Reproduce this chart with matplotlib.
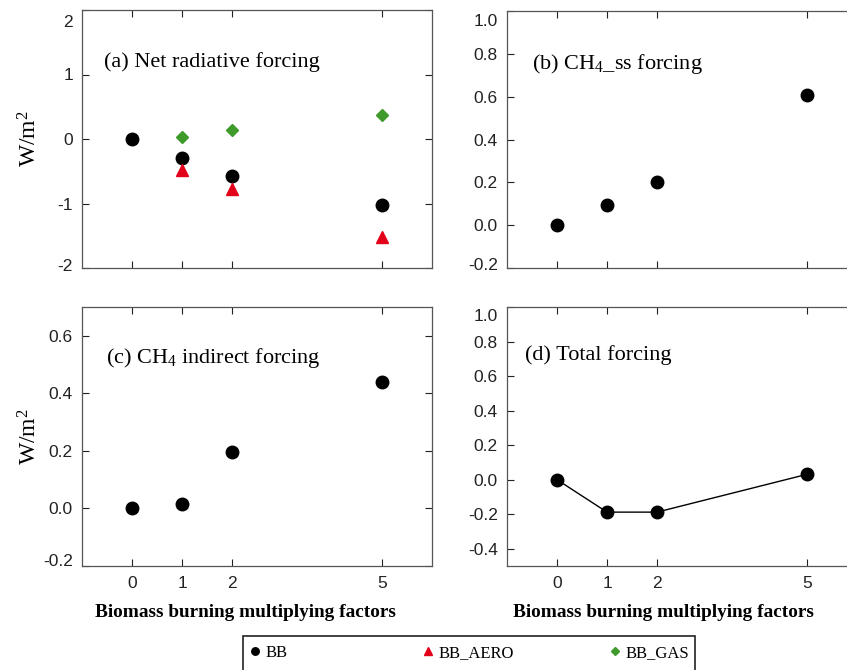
import matplotlib
matplotlib.use("Agg")
import matplotlib.pyplot as plt
from matplotlib.patches import Rectangle
from matplotlib.transforms import ScaledTranslation

plt.rcParams['mathtext.default'] = 'regular'

factors = [0, 1, 2, 5]
factors_nz = [1, 2, 5]

# (a) net radiative forcing
net_bb = [0.0, -0.30, -0.58, -1.02]
net_aero = [-0.48, -0.77, -1.52]
net_gas = [0.03, 0.14, 0.37]
# (b) CH4_ss forcing
ch4_ss = [0.0, 0.093, 0.20, 0.608]
# (c) CH4 indirect forcing
ch4_ind = [0.0, 0.014, 0.196, 0.438]
# (d) total forcing
total = [0.0, -0.188, -0.188, 0.031]

panel_titles = ["(a) Net radiative forcing", "(b) CH$_4$_ss forcing",
                "(c) CH$_4$ indirect forcing", "(d) Total forcing"]
legend_labels = ["BB", "BB_AERO", "BB_GAS"]

SERIF = "Liberation Serif"
SANS = "Liberation Sans"
RED = "#e3001a"
GREEN = "#3f9a2c"
SPINE = "#555555"

W, H = 847, 670
fig = plt.figure(figsize=(W / 100, H / 100), dpi=100)

def px_box(left, top, right, bottom):
    return [left / W, 1 - bottom / H, (right - left) / W, (bottom - top) / H]

ax_a = fig.add_axes(px_box(82, 10, 432, 268))
ax_b = fig.add_axes(px_box(507, 11, 857, 268))
ax_c = fig.add_axes(px_box(82, 307, 432, 566))
ax_d = fig.add_axes(px_box(507, 307, 857, 566))

h_bb, = ax_a.plot(factors, net_bb, 'o', color='black', ms=9, ls='none')
h_aero, = ax_a.plot(factors_nz, net_aero, '^', color=RED, ms=9, ls='none')
h_gas, = ax_a.plot(factors_nz, net_gas, 'D', color=GREEN, ms=6.5, ls='none')
ax_b.plot(factors, ch4_ss, 'o', color='black', ms=9, ls='none')
ax_c.plot(factors, ch4_ind, 'o', color='black', ms=9, ls='none')
ax_d.plot(factors, total, '-o', color='black', ms=9, lw=1)

setup = [
    (ax_a, (-2, 2), [-2, -1, 0, 1, 2], ['-2', '-1', '0', '1', '2'], (0.063, 0.798), 11, 3),
    (ax_b, (-0.2, 1.0), [-0.2, 0, 0.2, 0.4, 0.6, 0.8, 1.0],
     ['-0.2', '0.0', '0.2', '0.4', '0.6', '0.8', '1.0'], (0.07, 0.795), 9, 4),
    (ax_c, (-0.2, 0.7), [-0.2, 0, 0.2, 0.4, 0.6],
     ['-0.2', '0.0', '0.2', '0.4', '0.6'], (0.069, 0.803), 0, 6),
    (ax_d, (-0.5, 1.0), [-0.4, -0.2, 0, 0.2, 0.4, 0.6, 0.8, 1.0],
     ['-0.4', '-0.2', '0.0', '0.2', '0.4', '0.6', '0.8', '1.0'], (0.051, 0.815), 8, 0),
]

for i, (ax, ylim, yt, ytl, tpos, top_shift, bot_shift) in enumerate(setup):
    ax.set_xlim(-1, 6)
    ax.set_ylim(*ylim)
    ax.set_xticks(factors)
    ax.set_yticks(yt)
    ax.set_yticklabels(ytl, fontfamily=SANS, fontsize=12.5, color='#222222')
    if i >= 2:
        ax.set_xticklabels([str(f) for f in factors], fontfamily=SANS,
                           fontsize=12.5, color='#222222')
    else:
        ax.set_xticklabels([])
    ax.tick_params(direction='in', length=5, width=0.8, top=True, right=True,
                   color='#222222')
    ax.tick_params(axis='y', pad=6.5)
    ax.tick_params(axis='x', pad=7)
    for s in ax.spines.values():
        s.set_color(SPINE)
        s.set_linewidth(0.9)
    ax.text(tpos[0], tpos[1], panel_titles[i], transform=ax.transAxes,
            ha='left', va='center', fontfamily=SERIF, fontsize=16)
    labels = ax.get_yticklabels()
    if ax.get_ylim()[1] == yt[-1] and top_shift:
        lab = labels[-1]
        lab.set_transform(lab.get_transform()
                          + ScaledTranslation(0, -top_shift / 100, fig.dpi_scale_trans))
    if ax.get_ylim()[0] == yt[0] and bot_shift:
        lab = labels[0]
        lab.set_transform(lab.get_transform()
                          + ScaledTranslation(0, bot_shift / 100, fig.dpi_scale_trans))

for ax in (ax_a, ax_c):
    ax.set_ylabel("W/m$^2$", fontfamily=SERIF, fontsize=17)
    ax.yaxis.label.set_va('center')
    ax.yaxis.set_label_coords(-0.15, 0.5)

for ax, xc in ((ax_c, 0.466), (ax_d, 0.446)):
    ax.set_xlabel("Biomass burning multiplying factors", fontfamily=SERIF,
                  fontsize=13.9, fontweight='bold')
    ax.xaxis.label.set_va('center')
    ax.xaxis.set_label_coords(xc, -0.181)

# legend frame and entries
fig.add_artist(Rectangle((243 / W, 1 - 700 / H), (695 - 243) / W, (700 - 636) / H,
                         transform=fig.transFigure, fill=False, ec='#222222',
                         lw=1.2, clip_on=False))
handles = [h_bb, h_aero, h_gas]
marker_x = [255, 428, 615]
for h, lab, mx in zip(handles, legend_labels, marker_x):
    fig.legend([h], [lab], loc='center left',
               bbox_to_anchor=((mx - 6.7) / W, 1 - 653 / H),
               frameon=False, borderpad=0, borderaxespad=0, handlelength=0.8,
               handletextpad=0.25, markerscale=0.6,
               prop={'family': SERIF, 'size': 12})

fig.savefig("out.png", dpi=100)
